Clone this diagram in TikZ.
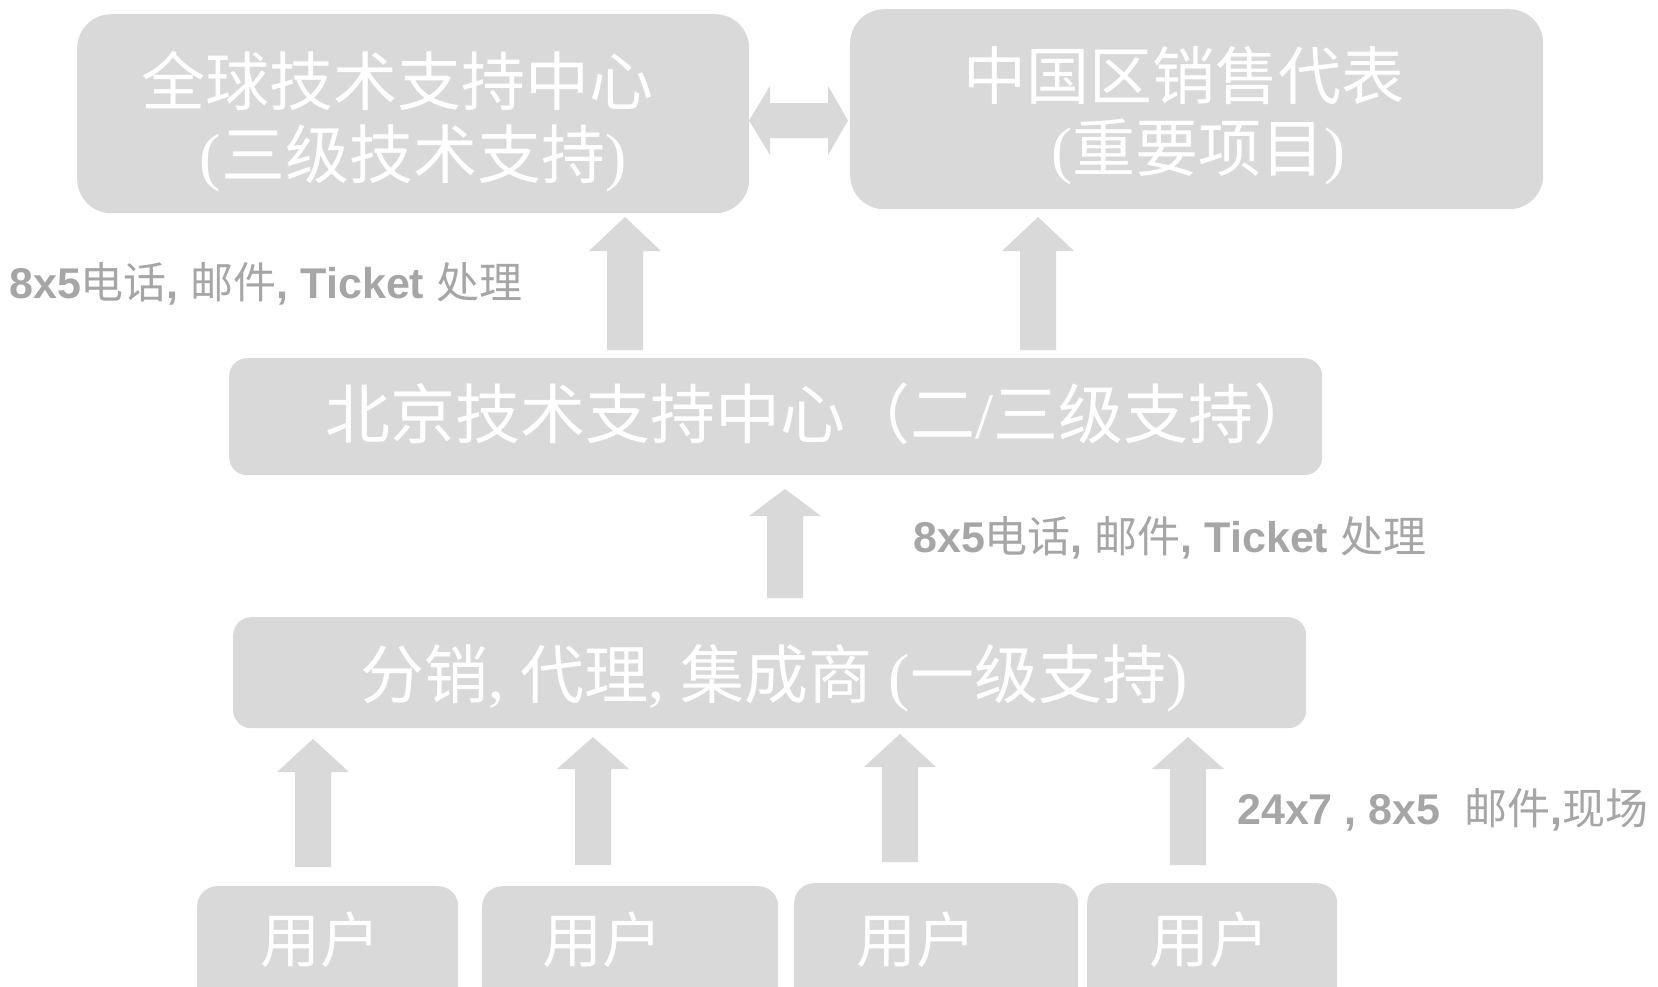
\documentclass[tikz,border=0pt]{standalone}
\usepackage{fontspec}
\setmainfont{Liberation Serif}
\newfontfamily\cjk{Noto Sans CJK SC}
\newfontfamily\lat{Liberation Sans}
\newcommand\cj[1]{{\cjk\mdseries #1}}
\definecolor{boxgray}{HTML}{D9D9D9}
\definecolor{labgray}{HTML}{A6A6A6}
\tikzset{
  box/.style={fill=boxgray, draw=none, inner sep=0pt, anchor=north west},
  wtext/.style={text=white, inner sep=0pt},
  lab/.style={text=labgray, inner sep=0pt, anchor=west, font=\lat\bfseries\fontsize{43}{50}\selectfont},
  blk/.style={fill=boxgray}
}
\newcommand\blkup[4]{%
  \fill[blk] (#1-36,#3) -- (#1,#2) -- (#1+36,#3) -- (#1+18,#3) -- (#1+18,#4)
    -- (#1-18,#4) -- (#1-18,#3) -- cycle;}
\begin{document}
\begin{tikzpicture}[x=1pt,y=-1pt]
\useasboundingbox (0,0) rectangle (1658,986);
\clip (0,0) rectangle (1658,986);
\fill[white] (0,0) rectangle (1658,986);
% boxes
\node[box, rounded corners=34pt, minimum width=672pt, minimum height=199pt] (b1) at (77,14) {};
\node[box, rounded corners=34pt, minimum width=693pt, minimum height=200pt] (b2) at (850,9) {};
\node[box, rounded corners=18pt, minimum width=1093pt, minimum height=117pt] (b3) at (229,358) {};
\node[box, rounded corners=18pt, minimum width=1073pt, minimum height=111pt] (b4) at (233,617) {};
\node[box, rounded corners=20pt, minimum width=261pt, minimum height=140pt] (u1) at (197,886) {};
\node[box, rounded corners=20pt, minimum width=296pt, minimum height=140pt] (u2) at (482,886) {};
\node[box, rounded corners=20pt, minimum width=284pt, minimum height=140pt] (u3) at (794,883) {};
\node[box, rounded corners=20pt, minimum width=250pt, minimum height=140pt] (u4) at (1087,883) {};
% arrows
\fill[blk] (749,120.5) -- (770,86) -- (770,103) -- (828,103) -- (828,86) -- (848,120.5)
  -- (828,155) -- (828,138) -- (770,138) -- (770,155) -- cycle;
\blkup{625}{217}{251}{350}
\blkup{1038}{217}{251}{350}
\blkup{785}{489}{516}{598}
\blkup{313}{739}{772}{867}
\blkup{593}{737}{769}{865}
\blkup{900}{734}{767}{862}
\blkup{1188}{737}{769}{865}
% box texts
\node[wtext, font=\cjk\fontsize{64}{77}\selectfont] (t1a) at (397,81) {全球技术支持中心};
\node[wtext, font=\cjk\fontsize{64}{77}\selectfont] (t1b) at (413,158) {{\rmfamily(}三级技术支持{\rmfamily)}};
\node[wtext, font=\cjk\fontsize{63}{77}\selectfont] (t2a) at (1184,76) {中国区销售代表};
\node[wtext, font=\cjk\fontsize{63}{77}\selectfont] (t2b) at (1198,152) {{\rmfamily(}重要项目{\rmfamily)}};
\node[wtext, font=\cjk\fontsize{65}{77}\selectfont] (t3) at (822,414) {北京技术支持中心（二{\rmfamily/}三级支持）};
\node[wtext, font=\cjk\fontsize{64}{77}\selectfont] (t4) at (774,678) {分销{\rmfamily, }代理{\rmfamily, }集成商{\rmfamily\ (}一级支持{\rmfamily)}};
\node[wtext, font=\cjk\fontsize{60}{70}\selectfont] (tu1) at (320,940) {用户};
\node[wtext, font=\cjk\fontsize{60}{70}\selectfont] (tu2) at (602,940) {用户};
\node[wtext, font=\cjk\fontsize{60}{70}\selectfont] (tu3) at (916,940) {用户};
\node[wtext, font=\cjk\fontsize{60}{70}\selectfont] (tu4) at (1209,940) {用户};
% labels
\node[lab] (l1) at (9,284) {8x5\cj{电话}, \cj{邮件}, Ticket \cj{处理}};
\node[lab] (l2) at (913,538) {8x5\cj{电话}, \cj{邮件}, Ticket \cj{处理}};
\node[lab] (l3) at (1237,810) {24x7 , 8x5~~\cj{邮件},\cj{现场}};
\end{tikzpicture}
\end{document}
